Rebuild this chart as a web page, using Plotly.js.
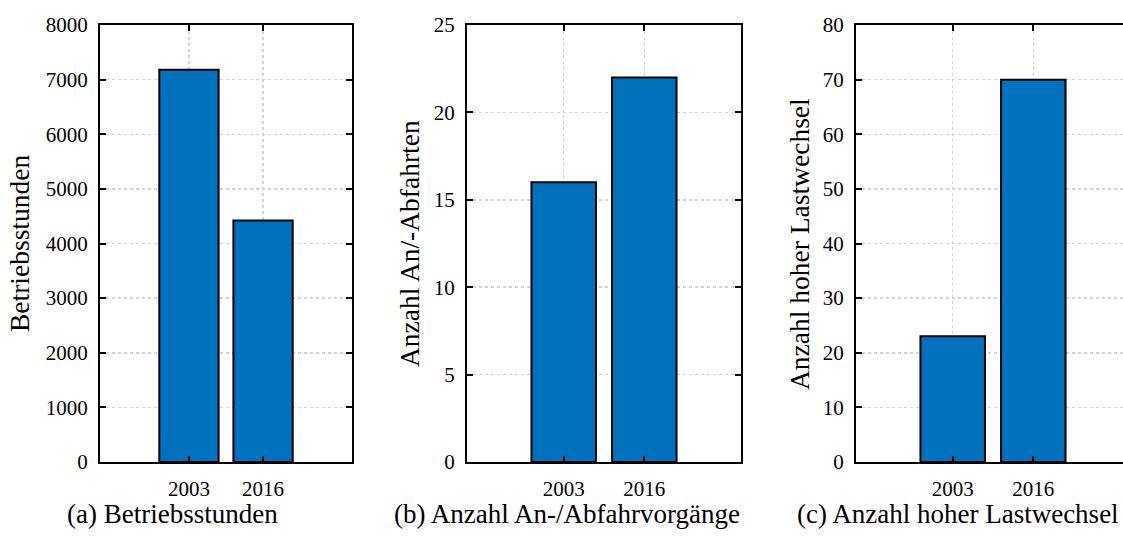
<!DOCTYPE html>
<html>
<head>
<meta charset="utf-8">
<script src="https://cdn.plot.ly/plotly-3.0.1.min.js"></script>
<style>html,body{margin:0;padding:0;background:#fff;overflow:hidden}</style>
</head>
<body>
<div id="chart" style="width:1123px;height:547px"></div>
<script>
const years = ['2003', '2016'];
const betriebsstunden = [7180, 4420];
const anAbfahrten = [16, 22];
const lastwechsel = [23, 70];
const yTitles = ['Betriebsstunden', 'Anzahl An/-Abfahrten', 'Anzahl hoher Lastwechsel'];
const captions = ['(a) Betriebsstunden', '(b) Anzahl An-/Abfahrvorgänge', '(c) Anzahl hoher Lastwechsel'];

const W = 1123, H = 547;
const FONT = '"Liberation Serif", "Times New Roman", serif';
const barColor = '#0072BD';

function bar(y, xa, ya) {
  return {type: 'bar', x: years, y: y, xaxis: xa, yaxis: ya, width: 0.8,
    marker: {color: barColor, line: {color: '#000', width: 2}}, hoverinfo: 'x+y', showlegend: false};
}

const data = [
  bar(betriebsstunden, 'x', 'y'),
  bar(anAbfahrten, 'x2', 'y2'),
  bar(lastwechsel, 'x3', 'y3')
];

const yDom = [1 - 462 / H, 1 - 25 / H];
function xax(d0, d1, r1, anchor) {
  return {domain: [d0 / W, d1 / W], anchor: anchor, type: 'category', range: [-1.2, r1],
    showline: true, linecolor: '#000', linewidth: 2, mirror: 'ticks',
    ticks: 'inside', ticklen: 6, tickwidth: 2, tickcolor: '#000',
    showgrid: true, gridcolor: '#d4d4d4', gridwidth: 1.5, griddash: 'dot',
    tickfont: {family: FONT, size: 21, color: '#000'}, ticklabelstandoff: 7,
    automargin: false, fixedrange: true};
}
function yax(range, dtick, anchor, mirror) {
  return {domain: yDom, anchor: anchor, range: range, dtick: dtick, tick0: 0,
    showline: true, linecolor: '#000', linewidth: 2, mirror: mirror,
    ticks: 'inside', ticklen: 6, tickwidth: 2, tickcolor: '#000',
    showgrid: true, gridcolor: '#d4d4d4', gridwidth: 1.5, griddash: 'dot', zeroline: false,
    tickfont: {family: FONT, size: 21, color: '#000'}, ticklabelstandoff: 6,
    automargin: false, fixedrange: true};
}

function ann(text, x, y, size, angle) {
  return {text: text, xref: 'paper', yref: 'paper', x: x / W, y: 1 - y / H,
    xanchor: 'center', yanchor: 'middle', showarrow: false, textangle: angle,
    font: {family: FONT, size: size, color: '#000'}};
}

const layout = {
  width: W, height: H,
  margin: {l: 0, r: 0, t: 0, b: 0},
  paper_bgcolor: '#fff', plot_bgcolor: '#fff',
  font: {family: FONT, color: '#000'},
  xaxis: xax(100, 352, 2.2, 'y'),
  yaxis: yax([0, 8000], 1000, 'x', 'ticks'),
  xaxis2: xax(467, 741, 2.2, 'y2'),
  yaxis2: yax([0, 25], 5, 'x2', 'ticks'),
  xaxis3: xax(856, 1123, 2.113, 'y3'),
  yaxis3: yax([0, 80], 10, 'x3', false),
  annotations: [
    ann(yTitles[0], 20, 244, 27.5, -90),
    ann(yTitles[1], 410, 244, 27.5, -90),
    ann(yTitles[2], 800, 244, 27.5, -90),
    ann(captions[0], 172, 514, 27, 0),
    ann(captions[1], 567, 514, 27, 0),
    ann(captions[2], 958, 514, 27, 0)
  ]
};

Plotly.newPlot('chart', data, layout, {displayModeBar: false, staticPlot: true});
</script>
</body>
</html>
